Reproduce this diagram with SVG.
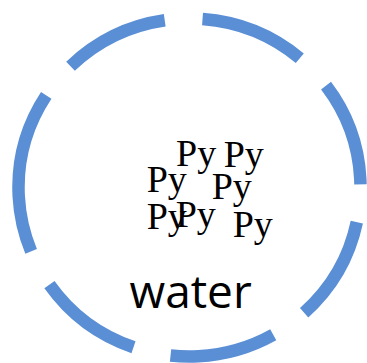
<svg xmlns="http://www.w3.org/2000/svg" width="367" height="363" viewBox="0 0 367 363">
<style>
.ring{fill:none;stroke:#5A8FD6;stroke-width:12.5;stroke-dasharray:35.9 12.8}
.py{font-family:"Liberation Serif","Times New Roman",serif;font-size:38px;fill:#000}
.lbl{font-family:"Open Sans","Liberation Sans",sans-serif;font-size:46px;fill:#000}
</style>
<rect width="367" height="363" fill="#fff"/>
<g id="water-drop">
<ellipse class="ring" cx="189.5" cy="187.5" rx="171" ry="169" pathLength="360" transform="rotate(177 189.5 187.5)"/>
<text class="lbl" x="129.5" y="307.7">water</text>
</g>
<g id="py-molecules">
<text class="py" x="176" y="166">Py</text>
<text class="py" x="223.7" y="166.5">Py</text>
<text class="py" x="146.7" y="191.7">Py</text>
<text class="py" x="211.7" y="199.3">Py</text>
<text class="py" x="146.7" y="229.3">Py</text>
<text class="py" x="175.7" y="227.3">Py</text>
<text class="py" x="232.7" y="236.7">Py</text>
</g>
<g id="connectors"/>
</svg>
